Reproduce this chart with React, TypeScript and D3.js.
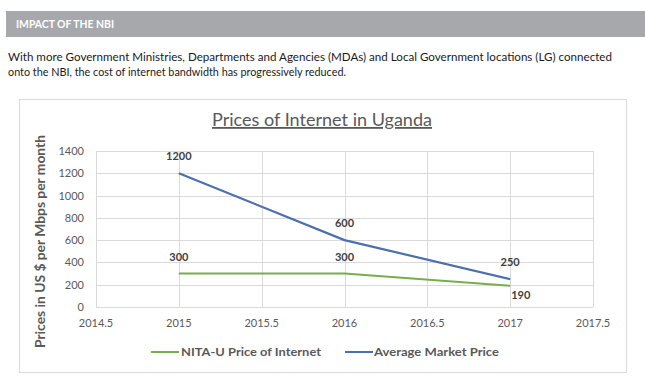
import React from "react";
import * as d3 from "d3";

const years = [2015, 2016, 2017];
const nitaPrice = [300, 300, 190];
const marketPrice = [1200, 600, 250];
const xTicks = [2014.5, 2015, 2015.5, 2016, 2016.5, 2017, 2017.5];
const yTicks = [0, 200, 400, 600, 800, 1000, 1200, 1400];
const seriesNames = ["NITA-U Price of Internet", "Average Market Price"];
const headerText = "IMPACT OF THE NBI";
const paragraph = [
  "With more Government Ministries, Departments and Agencies (MDAs) and Local Government locations (LG) connected",
  "onto the NBI, the cost of internet bandwidth has progressively reduced.",
];
const chartTitle = "Prices of Internet in Uganda";
const yTitle = "Prices in US $ per Mbps per month";

const GREEN = "#76AE4E";
const BLUE = "#4C6FAE";
const FONT = "Lato, 'Open Sans', sans-serif";

export default function App() {
  const x = d3.scaleLinear().domain([2014.5, 2017.5]).range([96, 593]);
  const y = d3.scaleLinear().domain([0, 1400]).range([307, 151]);
  const line = d3
    .line<number>()
    .x((_, i) => x(years[i]))
    .y((d) => y(d))
    .curve(d3.curveLinear);

  return (
    <svg
      width={645}
      height={388}
      style={{ position: "absolute", left: 0, top: 0, background: "#fff" }}
      fontFamily={FONT}
    >
      <rect x={6} y={11} width={639} height={26} fill="#A7A8AC" />
      <text x={16} y={28} fill="#fff" fontWeight="bold" fontSize={10.5} textLength={98} lengthAdjust="spacingAndGlyphs">
        {headerText}
      </text>
      <text x={8} y={61} fill="#1a1a1a" fontSize={11.5} textLength={604} lengthAdjust="spacingAndGlyphs">
        {paragraph[0]}
      </text>
      <text x={8} y={76} fill="#1a1a1a" fontSize={11.5} textLength={338} lengthAdjust="spacingAndGlyphs">
        {paragraph[1]}
      </text>

      <rect x={19.5} y={99.5} width={607} height={273} fill="#fff" stroke="#D9D9D9" />

      <text x={322} y={126} textAnchor="middle" fill="#595959" fontSize={18} textDecoration="underline" textLength={220} lengthAdjust="spacingAndGlyphs">
        {chartTitle}
      </text>

      {yTicks.map((t) => (
        <line key={"h" + t} x1={96} x2={593} y1={Math.round(y(t)) + 0.5} y2={Math.round(y(t)) + 0.5} stroke="#D9D9D9" />
      ))}
      {xTicks.map((t) => (
        <line key={"v" + t} x1={Math.round(x(t)) + 0.5} x2={Math.round(x(t)) + 0.5} y1={151} y2={307} stroke="#D9D9D9" />
      ))}

      {yTicks.map((t) => (
        <text key={"yl" + t} x={84} y={y(t) + 4} textAnchor="end" fill="#595959" fontSize={11}>
          {t}
        </text>
      ))}
      {xTicks.map((t) => (
        <text key={"xl" + t} x={x(t)} y={327} textAnchor="middle" fill="#595959" fontSize={11}>
          {t}
        </text>
      ))}

      <text
        transform={`translate(45,241.5) rotate(-90)`}
        textAnchor="middle"
        fill="#595959"
        fontWeight="bold"
        fontSize={12.5}
        textLength={213}
        lengthAdjust="spacingAndGlyphs"
      >
        {yTitle}
      </text>

      <path d={line(nitaPrice) || ""} fill="none" stroke={GREEN} strokeWidth={2} strokeLinejoin="round" />
      <path d={line(marketPrice) || ""} fill="none" stroke={BLUE} strokeWidth={2.2} strokeLinejoin="round" />

      {marketPrice.map((v, i) => (
        <text key={"ml" + i} x={x(years[i])} y={y(v) - 13} textAnchor="middle" fill="#404040" fontWeight="bold" fontSize={11}>
          {v}
        </text>
      ))}
      {nitaPrice.map((v, i) => {
        const last = i === nitaPrice.length - 1;
        return (
          <text
            key={"nl" + i}
            x={last ? x(years[i]) + 1 : x(years[i])}
            y={last ? y(v) + 13 : y(v) - 13}
            textAnchor={last ? "start" : "middle"}
            fill="#404040"
            fontWeight="bold"
            fontSize={11}
          >
            {v}
          </text>
        );
      })}

      <line x1={151} x2={179} y1={352} y2={352} stroke={GREEN} strokeWidth={2} />
      <text x={181} y={356} fill="#595959" fontWeight="bold" fontSize={12} textLength={140} lengthAdjust="spacingAndGlyphs">
        {seriesNames[0]}
      </text>
      <line x1={345} x2={373} y1={352} y2={352} stroke={BLUE} strokeWidth={2} />
      <text x={374} y={356} fill="#595959" fontWeight="bold" fontSize={12} textLength={125} lengthAdjust="spacingAndGlyphs">
        {seriesNames[1]}
      </text>
    </svg>
  );
}
